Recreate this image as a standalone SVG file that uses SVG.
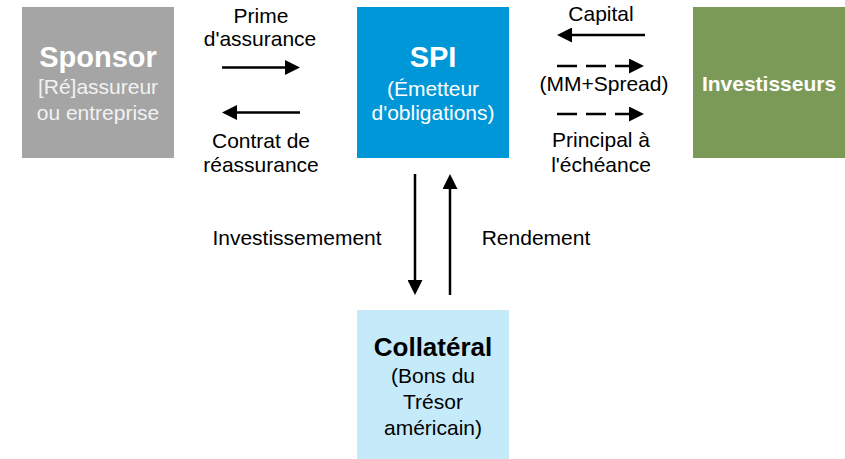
<svg xmlns="http://www.w3.org/2000/svg" width="845" height="459" viewBox="0 0 845 459">
  <style>
    text { font-family: "Liberation Sans", Arial, sans-serif; text-anchor: middle; }
    .title { font-weight: bold; font-size: 29px; }
    .sub { font-size: 21px; }
    .lbl { font-size: 21px; fill: #000; }
    .w { fill: #fff; }
    .pale { fill: #f2f2f2; }
    .flow { stroke: #000; stroke-width: 2.5; fill: none; marker-end: url(#head); }
    .dash { stroke-dasharray: 20 9; }
  </style>
  <defs>
    <marker id="head" markerUnits="userSpaceOnUse" markerWidth="15" markerHeight="15" refX="1" refY="7.5" orient="auto">
      <path d="M0,0 L15,7.5 L0,15 Z" fill="#000"/>
    </marker>
  </defs>

  <rect width="845" height="459" fill="#fff"/>

  <g id="sponsor">
    <rect x="22" y="7" width="152" height="151" fill="#a5a5a5"/>
    <text x="98" y="67" class="title w">Sponsor</text>
    <text x="98" y="94" class="sub pale">[Ré]assureur</text>
    <text x="98" y="120" class="sub pale">ou entreprise</text>
  </g>

  <g id="spi">
    <rect x="357" y="7" width="152" height="151" fill="#0097d9"/>
    <text x="433" y="67" class="title w">SPI</text>
    <text x="433" y="96" class="sub w">(Émetteur</text>
    <text x="433" y="120" class="sub w">d'obligations)</text>
  </g>

  <g id="investisseurs">
    <rect x="693" y="7" width="152" height="151" fill="#7b9a57"/>
    <text x="769" y="91" class="w" style="font-weight:bold;font-size:21px">Investisseurs</text>
  </g>

  <g id="collateral">
    <rect x="357" y="310" width="152" height="149" fill="#c5eafa"/>
    <text x="433" y="356" class="title" style="font-size:26px">Collatéral</text>
    <text x="433" y="383" class="sub">(Bons du</text>
    <text x="433" y="409" class="sub">Trésor</text>
    <text x="433" y="435" class="sub">américain)</text>
  </g>

  <g id="connectors">
    <line x1="222" y1="67.5" x2="286" y2="67.5" class="flow"/>
    <line x1="300" y1="112.5" x2="236" y2="112.5" class="flow"/>
    <line x1="645" y1="35" x2="571" y2="35" class="flow"/>
    <line x1="557" y1="66" x2="630" y2="66" class="flow dash"/>
    <line x1="557" y1="114" x2="630" y2="114" class="flow dash"/>
    <line x1="415" y1="174" x2="415" y2="281" class="flow"/>
    <line x1="450" y1="295" x2="450" y2="188" class="flow"/>
  </g>

  <g id="labels">
    <text x="261" y="23" class="lbl">Prime</text>
    <text x="260" y="46" class="lbl">d'assurance</text>
    <text x="261" y="148" class="lbl">Contrat de</text>
    <text x="261" y="172" class="lbl">réassurance</text>
    <text x="601" y="21" class="lbl">Capital</text>
    <text x="604" y="91" class="lbl">(MM+Spread)</text>
    <text x="601" y="147" class="lbl">Principal à</text>
    <text x="601" y="172" class="lbl">l'échéance</text>
    <text x="297" y="245" class="lbl">Investissemement</text>
    <text x="536" y="245" class="lbl">Rendement</text>
  </g>
</svg>
